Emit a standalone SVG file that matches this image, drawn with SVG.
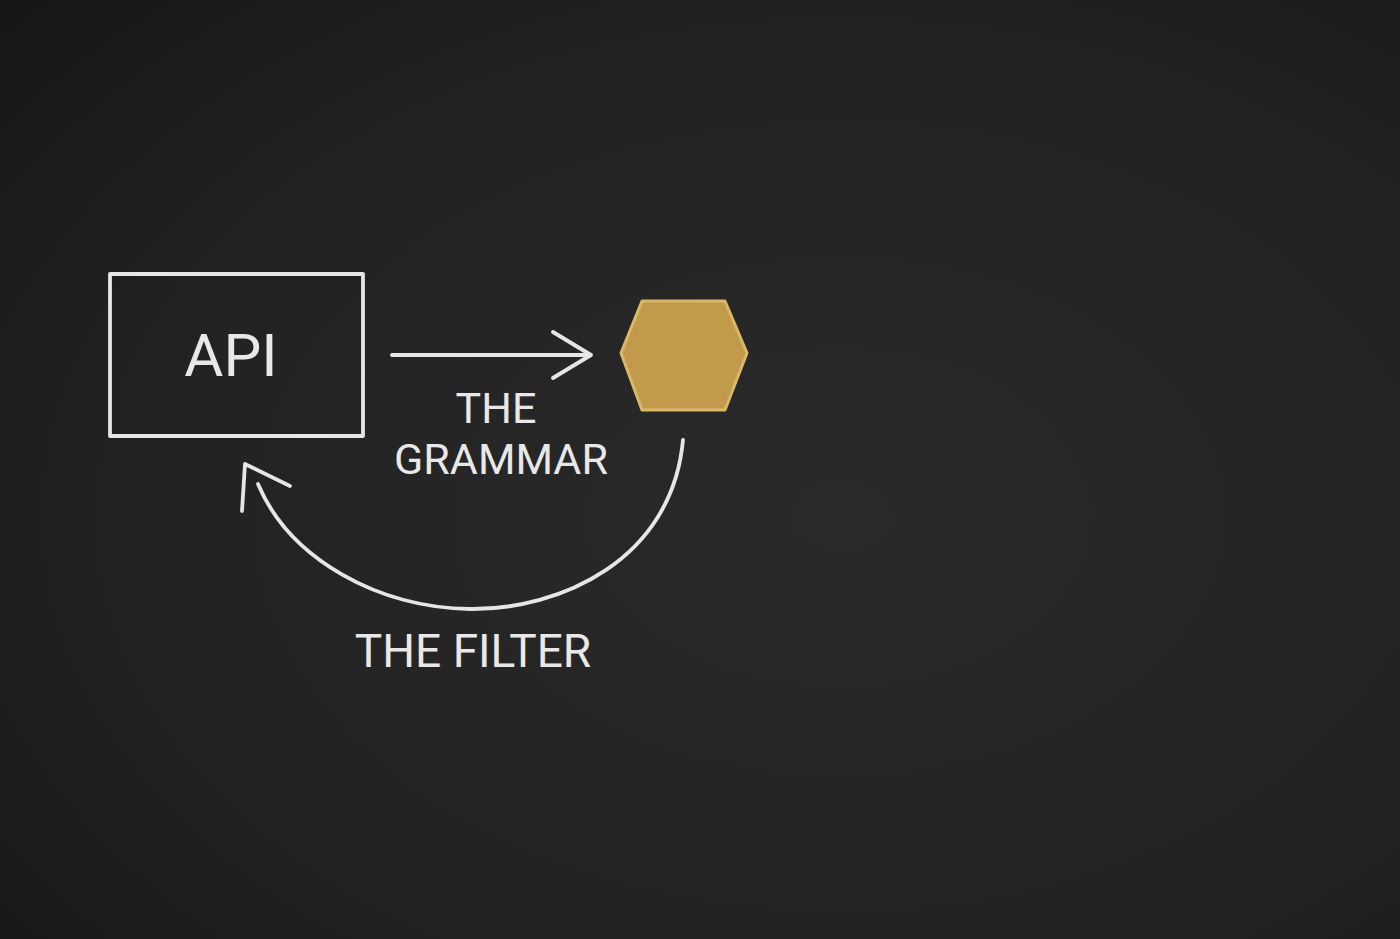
<svg xmlns="http://www.w3.org/2000/svg" width="1400" height="939" viewBox="0 0 1400 939">
<defs>
<radialGradient id="bg" cx="0.6" cy="0.55" r="0.85">
<stop offset="0" stop-color="#2a2a2a"/>
<stop offset="0.6" stop-color="#222222"/>
<stop offset="1" stop-color="#151515"/>
</radialGradient>
<style>
.chalk{fill:none;stroke:#e6e6e6;stroke-width:3.8;stroke-linecap:round;stroke-linejoin:round}
.lbl{fill:#e8e8e8;font-family:Roboto,"Open Sans",sans-serif;text-anchor:middle}
</style>
</defs>
<rect width="1400" height="939" fill="url(#bg)"/>
<g id="api">
<rect class="chalk" x="110" y="274" width="253" height="162"/>
<text class="lbl" x="231" y="376" font-size="60">API</text>
</g>
<g id="hex">
<polygon points="621,353 642,301 725,301 747,353 725,410 642,410" fill="#c29a4b" stroke="#d9b968" stroke-width="3" stroke-linejoin="round"/>
</g>
<g id="connectors">
<path class="chalk" d="M392,355 L590,355 M553,332 L591,355 L553,378"/>
<path class="chalk" d="M683,440 C672,560 560,610 470,609 C380,608 290,560 258,484"/>
<path class="chalk" d="M242,511 L245,464 L290,486"/>
</g>
<g id="labels">
<text class="lbl" x="496" y="423" font-size="43">THE</text>
<text class="lbl" x="501" y="474" font-size="43">GRAMMAR</text>
<text class="lbl" x="473" y="667" font-size="46">THE FILTER</text>
</g>
</svg>
